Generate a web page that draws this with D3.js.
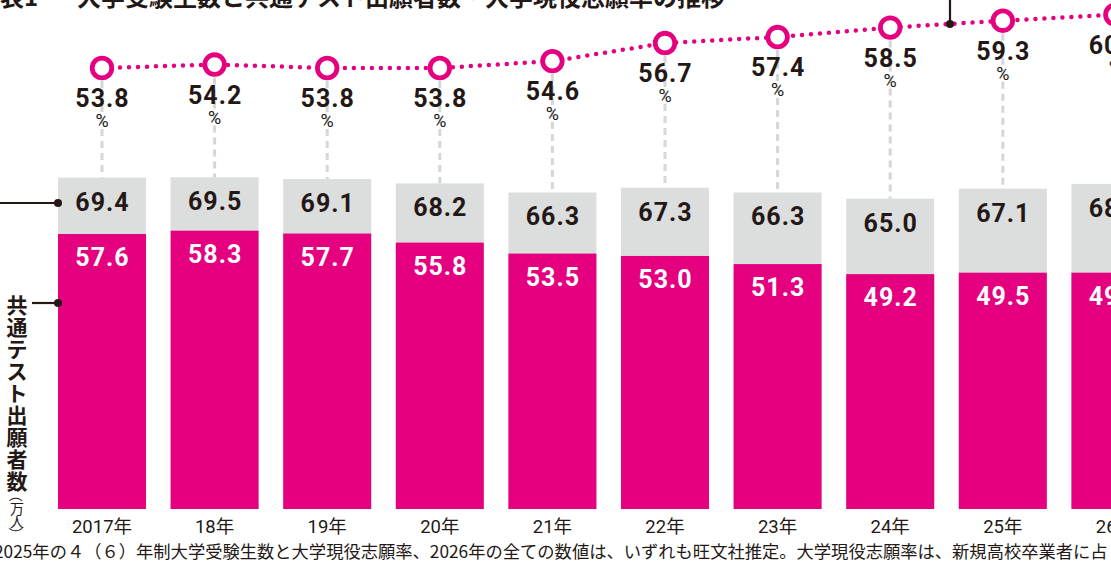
<!DOCTYPE html>
<html><head><meta charset="utf-8">
<script src="https://cdn.jsdelivr.net/npm/d3@7/dist/d3.min.js"></script>
<style>
html,body{margin:0;padding:0;background:#fff;overflow:hidden;}
svg{display:block;}
</style></head>
<body>
<svg id="c" width="1111" height="573"></svg>
<script>
const years = ["2017年","18年","19年","20年","21年","22年","23年","24年","25年","26年"];
const examinees = [69.4,69.5,69.1,68.2,66.3,67.3,66.3,65.0,67.1,68.1];   // 大学受験生数（万人）
const applicants = [57.6,58.3,57.7,55.8,53.5,53.0,51.3,49.2,49.5,49.5];  // 共通テスト出願者数（万人）
const rates = [53.8,54.2,53.8,53.8,54.6,56.7,57.4,58.5,59.3,60.0];       // 大学現役志願率（%）
const titleText = "大学受験生数と共通テスト出願者数・大学現役志願率の推移";
const axisTitle = "共通テスト出願者数";
const axisUnit = "（万人）";
const note = "2025年の４（６）年制大学受験生数と大学現役志願率、2026年の全ての数値は、いずれも旺文社推定。大学現役志願率は、新規高校卒業者に占";

const MAG = "#e4007f", GRAY = "#dcdddd", INK = "#231815";
const NUM = "Roboto, 'Noto Sans', sans-serif";
const JP = "'Noto Sans CJK JP', sans-serif";

const svg = d3.select("#c");
const x = d3.scaleBand().domain(years).range([45.7, 1171.7]).paddingInner(0.2185).paddingOuter(0.10925);
const y = d3.scaleLinear().domain([0, 70]).range([509, 509 - 70 * 4.774]);
const yr = d3.scaleLinear().domain([53.8, 59.3]).range([68, 20.7]);
const cx = d => x(d) + x.bandwidth() / 2;

// title (cropped at top)
svg.append("text").attr("x", -24).attr("y", 6).attr("font-family", JP).attr("font-weight", 700)
  .attr("font-size", 24).attr("fill", INK).text("図表1");
svg.append("text").attr("x", 77).attr("y", 6).attr("font-family", JP).attr("font-weight", 700)
  .attr("font-size", 24).attr("fill", INK).text(titleText);

// dashed connectors
svg.append("g").selectAll("line").data(years).join("line")
  .attr("x1", d => cx(d)).attr("x2", d => cx(d))
  .attr("y1", (d, i) => yr(rates[i]) + 13).attr("y2", (d, i) => y(examinees[i]))
  .attr("stroke", "#d6d6d6").attr("stroke-width", 3).attr("stroke-dasharray", "7,5");

// bars
const g = svg.append("g");
g.selectAll("rect.ex").data(years).join("rect").attr("class", "ex")
  .attr("x", d => x(d)).attr("width", x.bandwidth())
  .attr("y", (d, i) => y(examinees[i])).attr("height", (d, i) => y(0) - y(examinees[i]))
  .attr("fill", GRAY);
g.selectAll("rect.ap").data(years).join("rect").attr("class", "ap")
  .attr("x", d => x(d)).attr("width", x.bandwidth())
  .attr("y", (d, i) => y(applicants[i])).attr("height", (d, i) => y(0) - y(applicants[i]))
  .attr("fill", MAG);

// bar labels
g.selectAll("text.exl").data(years).join("text").attr("class", "exl")
  .attr("x", d => cx(d) + 0.5).attr("y", (d, i) => y(examinees[i]) + 33)
  .attr("text-anchor", "middle").attr("font-family", NUM).attr("font-weight", 700)
  .attr("font-size", 25).attr("letter-spacing", 1).attr("fill", INK)
  .text((d, i) => examinees[i].toFixed(1));
g.selectAll("text.apl").data(years).join("text").attr("class", "apl")
  .attr("x", d => cx(d) + 0.5).attr("y", (d, i) => y(applicants[i]) + 32)
  .attr("text-anchor", "middle").attr("font-family", NUM).attr("font-weight", 700)
  .attr("font-size", 25).attr("letter-spacing", 1).attr("fill", "#fff")
  .text((d, i) => applicants[i].toFixed(1));

// rate line
const line = d3.line().x((d, i) => cx(years[i])).y(d => yr(d));
svg.append("path").datum(rates).attr("d", line).attr("fill", "none")
  .attr("stroke", MAG).attr("stroke-width", 4.5).attr("stroke-linecap", "round")
  .attr("stroke-dasharray", "0,9");

// annotation pointer (top right)
const px = 950;
const i24 = 7;
const py = yr(rates[i24]) + (yr(rates[i24 + 1]) - yr(rates[i24])) * (px - cx(years[i24])) / (cx(years[i24 + 1]) - cx(years[i24]));
svg.append("line").attr("x1", px).attr("x2", px).attr("y1", -2).attr("y2", py)
  .attr("stroke", INK).attr("stroke-width", 2.2);
svg.append("circle").attr("cx", px).attr("cy", py).attr("r", 4).attr("fill", INK);

// rate circles
svg.append("g").selectAll("circle").data(rates).join("circle")
  .attr("cx", (d, i) => cx(years[i])).attr("cy", d => yr(d)).attr("r", 9.8)
  .attr("fill", "#fff").attr("stroke", MAG).attr("stroke-width", 4.8);

// rate labels
svg.append("g").selectAll("text").data(rates).join("text")
  .attr("x", (d, i) => cx(years[i]) + 0.5).attr("y", d => yr(d) + 39)
  .attr("text-anchor", "middle").attr("font-family", NUM).attr("font-weight", 700)
  .attr("font-size", 25).attr("letter-spacing", 1).attr("fill", INK)
  .text(d => d.toFixed(1));
svg.append("g").selectAll("text").data(rates).join("text")
  .attr("x", (d, i) => cx(years[i])).attr("y", d => yr(d) + 59)
  .attr("text-anchor", "middle").attr("font-family", NUM).attr("font-weight", 400)
  .attr("font-size", 18).attr("fill", INK).text("%");

// x axis labels
const xAxis = d3.axisBottom(x).tickSize(0).tickPadding(0);
const ax = svg.append("g").attr("transform", "translate(0,520)").call(xAxis);
ax.select(".domain").remove();
ax.selectAll("text").attr("font-family", NUM + ", " + JP).attr("font-size", 18.5)
  .attr("fill", INK).attr("dy", "0.71em");

// left pointers
svg.append("line").attr("x1", 0).attr("x2", x(years[0])).attr("y1", 203).attr("y2", 203)
  .attr("stroke", INK).attr("stroke-width", 2.2);
svg.append("circle").attr("cx", x(years[0])).attr("cy", 203).attr("r", 4).attr("fill", INK);
svg.append("line").attr("x1", 32).attr("x2", x(years[0])).attr("y1", 303).attr("y2", 303)
  .attr("stroke", INK).attr("stroke-width", 2.2);
svg.append("circle").attr("cx", x(years[0])).attr("cy", 303).attr("r", 4).attr("fill", INK);

// vertical axis title (one glyph per line)
const vg = svg.append("g").attr("font-family", JP).attr("fill", INK).attr("text-anchor", "middle");
Array.from(axisTitle).forEach((ch, i) => {
  vg.append("text").attr("x", 17).attr("y", 304 + i * 22).attr("dominant-baseline", "central")
    .attr("font-weight", 700).attr("font-size", 21).text(ch);
});
Array.from(axisUnit).forEach((ch, i) => {
  const yy = 495 + i * 13;
  const t = vg.append("text").attr("x", 17).attr("y", yy).attr("dominant-baseline", "central")
    .attr("font-weight", 400).attr("font-size", 14).text(ch);
  if (ch === "（" || ch === "）") t.attr("transform", `rotate(90,17,${yy})`);
});

// footnote
svg.append("text").attr("x", -6).attr("y", 558).attr("font-family", JP).attr("font-size", 17.3)
  .attr("fill", INK).text(note);
</script>
</body></html>
